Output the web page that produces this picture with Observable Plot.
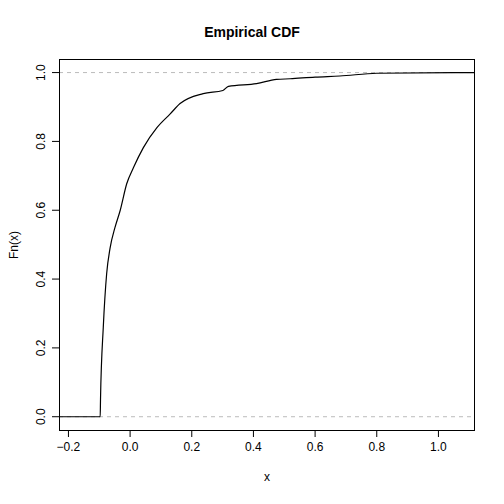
<!DOCTYPE html>
<html lang="en">
<head>
<meta charset="UTF-8">
<script src="https://cdn.jsdelivr.net/npm/d3@7"></script>
<script src="https://cdn.jsdelivr.net/npm/@observablehq/plot@0.6"></script>
<style>
  body { margin: 0; background: #fff; font-family: "Liberation Sans", Arial, sans-serif; }
  #title { height: 40px; line-height: 64px; text-align: center; font-weight: bold; font-size: 14px; }
</style>
</head>
<body>
<div id="title">Empirical CDF</div>
<div id="plot"></div>
<script>
const xs = [-0.229, -0.097, -0.096, -0.087, -0.076, -0.065, -0.049, -0.032, -0.011, 0.011, 0.043, 0.087, 0.13, 0.162, 0.237, 0.301, 0.319, 0.41, 0.475, 0.519, 0.6, 0.68, 0.8, 1.05, 1.117];
const fn = [0, 0, 0.05, 0.26, 0.416, 0.49, 0.55, 0.60, 0.677, 0.724, 0.782, 0.84, 0.88, 0.91, 0.939, 0.948, 0.96, 0.968, 0.98, 0.982, 0.987, 0.99, 0.998, 1, 1];
const yTicks = [0, 0.2, 0.4, 0.6, 0.8, 1.0];
const xTicks = [-0.2, 0, 0.2, 0.4, 0.6, 0.8, 1.0];

const data = xs.map((x, i) => ({x, y: fn[i]}));

const plot = Plot.plot({
  width: 504,
  height: 464,
  marginTop: 19,
  marginBottom: 74,
  marginLeft: 59,
  marginRight: 30,
  style: {fontFamily: "Liberation Sans, Arial, sans-serif", fontSize: "12px", background: "#fff"},
  x: {domain: [-0.229, 1.117], ticks: xTicks, tickFormat: d3.format(".1f")},
  y: {domain: [-0.04, 1.038], ticks: yTicks, tickFormat: d3.format(".1f")},
  marks: [
    Plot.ruleY([0, 1], {stroke: "#bbb", strokeDasharray: "4,4"}),
    Plot.line(data, {x: "x", y: "y", curve: "monotone-x", stroke: "#000", strokeWidth: 1.2}),
    Plot.frame({stroke: "#000"}),
    Plot.axisX({ticks: xTicks, tickFormat: d3.format(".1f"), tickSize: 7, tickPadding: 5, fontSize: 12, label: "x", labelAnchor: "center", labelArrow: "none", labelOffset: 50}),
    Plot.axisY({ticks: yTicks, tickFormat: d3.format(".1f"), tickSize: 7, tickRotate: -90, tickPadding: 8, fontSize: 12, label: "Fn(x)", labelAnchor: "center", labelArrow: "none", labelOffset: 50})
  ]
});
document.getElementById("plot").append(plot);
</script>
</body>
</html>
